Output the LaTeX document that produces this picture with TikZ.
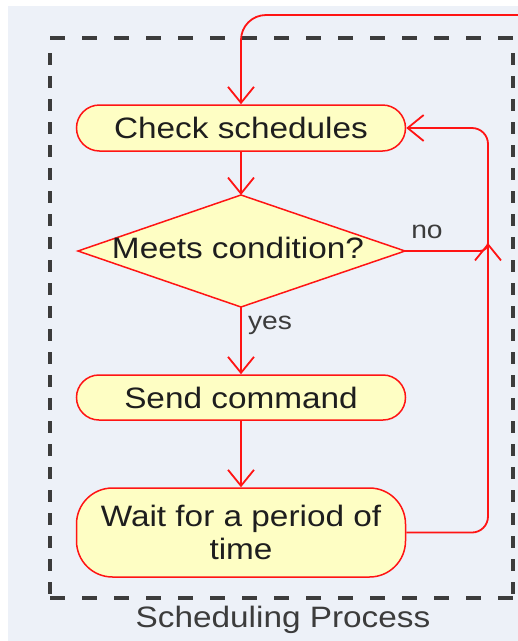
\documentclass[tikz,border=0pt]{standalone}
\usepackage{fontspec}
\setmainfont{Liberation Sans}[FakeStretch=1.13]
\usetikzlibrary{arrows.meta}
\definecolor{bgc}{RGB}{237,241,248}
\definecolor{fillc}{RGB}{254,254,196}
\definecolor{linec}{RGB}{255,20,20}
\definecolor{dashc}{RGB}{60,60,60}
\definecolor{txtc}{RGB}{30,30,30}
\definecolor{lblc}{RGB}{60,60,60}
\tikzset{
  actbox/.style={draw=linec, fill=fillc, line width=1.5pt, inner sep=0pt,
    minimum width=329pt, text=txtc, font=\fontsize{29.5}{33}\selectfont, align=center},
  conn/.style={draw=linec, line width=1.8pt},
  arr/.style={conn, -{Straight Barb[length=16pt,width=26pt]}},
  lbl/.style={text=lblc, font=\fontsize{25}{28}\selectfont, inner sep=0pt},
  frameh/.style={draw=dashc, line width=3.5pt, dash pattern=on 15pt off 17pt},
  framev/.style={draw=dashc, line width=3.5pt, dash pattern=on 12pt off 11pt},
}
\begin{document}
\begin{tikzpicture}[x=1pt,y=-1pt]
\useasboundingbox (0,0) rectangle (518,641);
\fill[bgc] (8,6) rectangle (518,641);
% frame
\draw[frameh] (50,38) -- (513,38);
\draw[frameh] (50,598) -- (513,598);
\draw[framev] (50,53) -- (50,598);
\draw[framev] (513,53) -- (513,598);
\node[text=lblc, font=\fontsize{29.5}{33}\selectfont, inner sep=0pt] (title) at (283,620) {Scheduling Process};
% nodes
\node[actbox, minimum height=46pt, rounded corners=23pt] (check) at (241,128) {Check schedules};
\coordinate (cn) at (241,195);
\coordinate (ce) at (405,251);
\coordinate (cs) at (241,307);
\coordinate (cw) at (78,251);
\draw[draw=linec, fill=fillc, line width=1.5pt] (cn) -- (ce) -- (cs) -- (cw) -- cycle;
\node[text=txtc, font=\fontsize{29.5}{33}\selectfont, inner sep=0pt] (cond) at (238,248) {Meets condition?};
\node[actbox, minimum height=45pt, rounded corners=22.5pt] (send) at (241,397.5) {Send command};
\node[actbox, minimum height=89pt, rounded corners=36pt] (wait) at (241,532.5) {Wait for a period of\\time};
% connectors
\coordinate (topin) at (522,15);
\coordinate (merge) at (488,243);
\draw[arr, rounded corners=25pt] (topin) -| (check.north);
\draw[arr] (check.south) -- (cn);
\draw[arr] (cs) -- (send.north);
\draw[arr] (send.south) -- (wait.north);
\draw[arr, rounded corners=16pt] (wait.east) -| (merge);
\draw[arr, rounded corners=16pt] (merge) |- (check.east);
\draw[conn, rounded corners=8pt] (ce) -| (merge);
\node[lbl] (no) at (427,232) {no};
\node[lbl] (yes) at (270,325) {yes};
\end{tikzpicture}
\end{document}
